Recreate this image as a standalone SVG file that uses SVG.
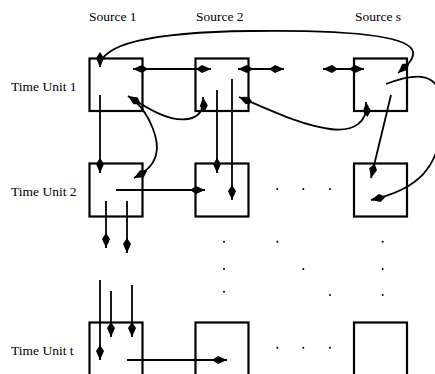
<svg xmlns="http://www.w3.org/2000/svg" width="435" height="374" viewBox="0 0 435 374">
<style>
.box{fill:none;stroke:#000;stroke-width:2.2}
.c{fill:none;stroke:#000;stroke-width:1.8}
.l{font-family:"Liberation Serif","Times New Roman",serif;font-size:13.5px;fill:#000}
.d{fill:#000}
</style>
<defs>
<marker id="a" markerUnits="userSpaceOnUse" markerWidth="17" markerHeight="10" viewBox="-16 -5 17 10" refX="0" refY="0" orient="auto-start-reverse">
<path d="M0,0 L-9,-4 L-15,0 L-9,4 Z" fill="#000"/>
</marker>
</defs>
<rect width="435" height="374" fill="#fff"/>
<g id="labels">
<text class="l" x="89" y="20.5">Source 1</text>
<text class="l" x="196" y="20.5">Source 2</text>
<text class="l" x="355" y="20.5">Source s</text>
<text class="l" x="11" y="90.5">Time Unit 1</text>
<text class="l" x="11" y="196">Time Unit 2</text>
<text class="l" x="11" y="354.5">Time Unit t</text>
</g>
<g id="n11"><rect class="box" x="89.5" y="58.5" width="53" height="52.5"/></g>
<g id="n12"><rect class="box" x="195.5" y="58.5" width="53" height="52.5"/></g>
<g id="n1s"><rect class="box" x="354" y="58.5" width="53" height="52.5"/></g>
<g id="n21"><rect class="box" x="89.5" y="163.5" width="53" height="53"/></g>
<g id="n22"><rect class="box" x="195.5" y="163.5" width="53" height="53"/></g>
<g id="n2s"><rect class="box" x="354" y="163.5" width="53" height="53"/></g>
<g id="nt1"><rect class="box" x="89.5" y="322.5" width="53" height="60"/></g>
<g id="nt2"><rect class="box" x="195.5" y="322.5" width="53" height="60"/></g>
<g id="nts"><rect class="box" x="354" y="322.5" width="53" height="60"/></g>
<g id="connectors">
<path class="c" d="M100,67 C100,40 170,32 250,31 C330,30 410,33 413,52 C414,60 406,66 398,73" marker-start="url(#a)" marker-end="url(#a)"/>
<path class="c" d="M133,69 L211,69" marker-start="url(#a)" marker-end="url(#a)"/>
<path class="c" d="M238,69 L284,69" marker-start="url(#a)" marker-end="url(#a)"/>
<path class="c" d="M323,69 L364,69" marker-start="url(#a)" marker-end="url(#a)"/>
<path class="c" d="M128,96 C150,110 170,122 188,119 C200,117 204,108 203,97" marker-start="url(#a)" marker-end="url(#a)"/>
<path class="c" d="M134,100 C150,115 160,140 156,155 C153,166 145,172 134,178" marker-end="url(#a)"/>
<path class="c" d="M239,97 C270,110 300,125 330,129 C355,132 368,122 366,102" marker-start="url(#a)" marker-end="url(#a)"/>
<path class="c" d="M100,95 L100,173" marker-end="url(#a)"/>
<path class="c" d="M217,90 L217,173" marker-end="url(#a)"/>
<path class="c" d="M232,79 L232,200" marker-end="url(#a)"/>
<path class="c" d="M391,95 L371,178" marker-end="url(#a)"/>
<path class="c" d="M386,84 C410,75 445,65 442,115 C442,170 415,190 371,200" marker-end="url(#a)"/>
<path class="c" d="M116,190 L205,190" marker-end="url(#a)"/>
<path class="c" d="M106,201 L106,248" marker-end="url(#a)"/>
<path class="c" d="M127,201 L127,253" marker-end="url(#a)"/>
<path class="c" d="M100,280 L100,360" marker-end="url(#a)"/>
<path class="c" d="M111,291 L111,337" marker-end="url(#a)"/>
<path class="c" d="M132,285 L132,337" marker-end="url(#a)"/>
<path class="c" d="M127,360 L227,360" marker-end="url(#a)"/>
</g>
<g id="dots">
<circle class="d" cx="277.3" cy="189" r="1"/>
<circle class="d" cx="303.3" cy="189" r="1"/>
<circle class="d" cx="330" cy="189" r="1"/>
<circle class="d" cx="224" cy="241.7" r="1"/>
<circle class="d" cx="277.3" cy="241.7" r="1"/>
<circle class="d" cx="382.7" cy="241.7" r="1"/>
<circle class="d" cx="224" cy="269" r="1"/>
<circle class="d" cx="303.3" cy="269" r="1"/>
<circle class="d" cx="382.7" cy="269" r="1"/>
<circle class="d" cx="224" cy="291.7" r="1"/>
<circle class="d" cx="330" cy="295" r="1"/>
<circle class="d" cx="382.7" cy="295" r="1"/>
<circle class="d" cx="277.3" cy="347.7" r="1"/>
<circle class="d" cx="303.3" cy="347.7" r="1"/>
<circle class="d" cx="330" cy="347.7" r="1"/>
</g>
</svg>
